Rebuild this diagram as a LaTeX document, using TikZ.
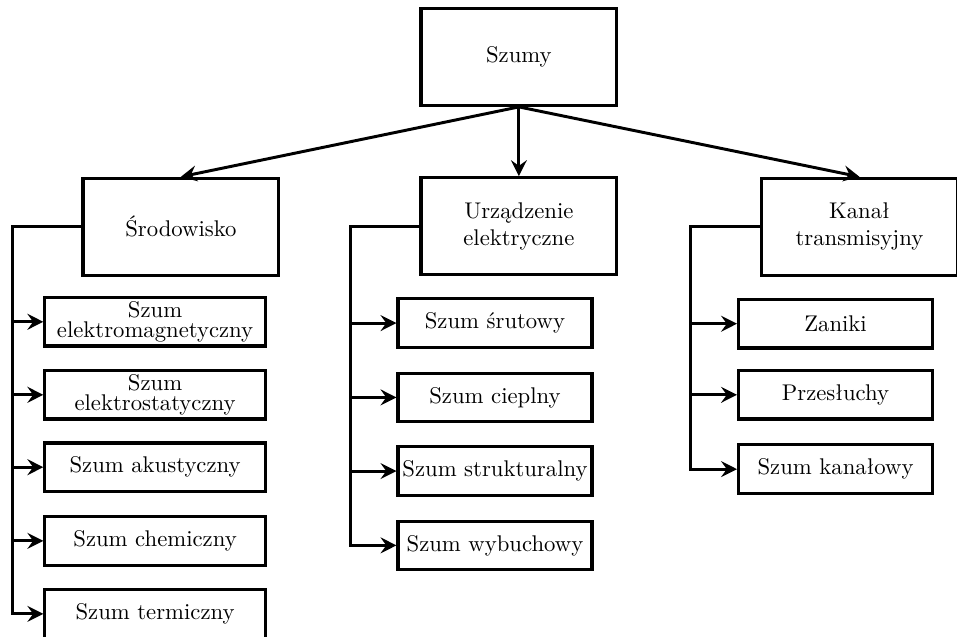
\documentclass[tikz,border=0pt]{standalone}
\usepackage{fontspec}
\usepackage{tikz}
\usetikzlibrary{arrows.meta,positioning,calc}

\begin{document}
\begin{tikzpicture}[
  box/.style={draw, line width=1.4pt, align=center},
  topbox/.style={box, minimum width=3.03cm, minimum height=1.5cm},
  leaf/.style={box, inner sep=1pt, minimum height=0.75cm},
  link/.style={line width=1.3pt, -{Stealth[length=7pt, width=7pt, inset=2.5pt]}}
]
  \useasboundingbox (0,0) rectangle (14.81,-9.85);

  % Root
  \node[topbox] (szumy) at (8.03,-0.88) {Szumy};

  % Categories
  \node[topbox] (srod) at (2.80,-3.51) {Środowisko};
  \node[topbox] (urz) at (8.03,-3.50) {Urządzenie\\elektryczne};
  \node[topbox] (kanal) at (13.30,-3.51) {Kanał\\transmisyjny};

  \draw[link] (szumy.south) -- (srod.north);
  \draw[link] (szumy.south) -- (urz.north);
  \draw[link] (szumy.south) -- (kanal.north);

  % Trunks
  \coordinate (trunkL) at (0.19,0);
  \coordinate (trunkM) at (5.43,0);
  \coordinate (trunkR) at (10.68,0);

  % Left column
  \node[leaf, minimum width=3.41cm] (emag) at (2.40,-4.98) {Szum\\[-3pt]elektromagnetyczny};
  \node[leaf, minimum width=3.41cm] (estat) at (2.40,-6.11) {Szum\\[-3pt]elektrostatyczny};
  \node[leaf, minimum width=3.41cm] (akus) at (2.40,-7.23) {Szum akustyczny};
  \node[leaf, minimum width=3.41cm] (chem) at (2.40,-8.37) {Szum chemiczny};
  \node[leaf, minimum width=3.41cm] (term) at (2.40,-9.50) {Szum termiczny};

  % Middle column
  \node[leaf, minimum width=3.0cm] (srut) at (7.66,-5.00) {Szum śrutowy};
  \node[leaf, minimum width=3.0cm] (ciep) at (7.66,-6.15) {Szum cieplny};
  \node[leaf, minimum width=3.0cm] (strukt) at (7.66,-7.29) {Szum strukturalny};
  \node[leaf, minimum width=3.0cm] (wybuch) at (7.66,-8.44) {Szum wybuchowy};

  % Right column
  \node[leaf, minimum width=3.0cm] (zan) at (12.93,-5.01) {Zaniki};
  \node[leaf, minimum width=3.0cm] (przes) at (12.93,-6.11) {Przesłuchy};
  \node[leaf, minimum width=3.0cm] (kanszum) at (12.93,-7.26) {Szum kanałowy};

  % Branches
  \draw[link] (srod.west) -- (srod.west -| trunkL) |- (emag.west);
  \draw[link] (srod.west) -- (srod.west -| trunkL) |- (estat.west);
  \draw[link] (srod.west) -- (srod.west -| trunkL) |- (akus.west);
  \draw[link] (srod.west) -- (srod.west -| trunkL) |- (chem.west);
  \draw[link] (srod.west) -- (srod.west -| trunkL) |- (term.west);

  \draw[link] (urz.west) -- (urz.west -| trunkM) |- (srut.west);
  \draw[link] (urz.west) -- (urz.west -| trunkM) |- (ciep.west);
  \draw[link] (urz.west) -- (urz.west -| trunkM) |- (strukt.west);
  \draw[link] (urz.west) -- (urz.west -| trunkM) |- (wybuch.west);

  \draw[link] (kanal.west) -- (kanal.west -| trunkR) |- (zan.west);
  \draw[link] (kanal.west) -- (kanal.west -| trunkR) |- (przes.west);
  \draw[link] (kanal.west) -- (kanal.west -| trunkR) |- (kanszum.west);
\end{tikzpicture}
\end{document}
